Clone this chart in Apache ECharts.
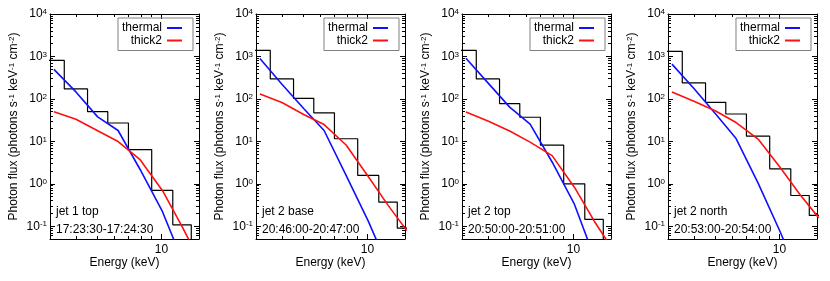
<!DOCTYPE html>
<html><head><meta charset="utf-8">
<script src="https://cdn.jsdelivr.net/npm/echarts@6/dist/echarts.min.js"></script>
<style>html,body{margin:0;padding:0;background:#fff}#c{width:830px;height:281px}</style>
</head><body><div id="c"></div>
<script>
// ---- data ----
const binEdges   = [2.8, 3.5, 4.5, 5.6, 7.0, 9.0, 11.3, 13.8, 17.0];   // keV
const binCenters = [3.13, 3.97, 5.02, 6.26, 7.94, 10.1, 12.5, 15.3];    // keV

const panelNames = ['jet 1 top', 'jet 2 base', 'jet 2 top', 'jet 2 north'];
const panelTimes = ['17:23:30-17:24:30', '20:46:00-20:47:00', '20:50:00-20:51:00', '20:53:00-20:54:00'];

const observed1 = [810, 172, 50, 27, 6.4, 0.70, 0.108];
const thermal1  = [497, 146, 37.7, 18, 2.17, 0.223, 0.016];
const thick1    = [50, 33, 17.7, 9.9, 3.7, 0.695, 0.098, 0.0135];

const observed2 = [1390, 296, 103, 47, 11.5, 1.57, 0.37, 0.09];
const thermal2  = [898, 221, 59.4, 18, 1.57, 0.13, 0.011];
const thick2    = [131, 82, 42.8, 24.8, 8.2, 1.47, 0.31, 0.079];

const observed3 = [1390, 296, 77.5, 36.9, 8.1, 1.0, 0.145];
const thermal3  = [910, 238, 64, 25.5, 3.26, 0.33, 0.019];
const thick3    = [49, 30, 17.5, 9.6, 4.6, 0.83, 0.133, 0.028];

const observed4 = [1318, 238, 83, 44, 13.2, 2.25, 0.53, 0.18];
const thermal4  = [659, 175, 44, 11.6, 1.04, 0.072, 0.0054];
const thick4    = [145, 88, 52, 27.7, 11.3, 2.38, 0.55, 0.157];

const xRange = [3, 15];
const yRange = [0.05, 1e4];
const xMajorTicks = [10];
const xMinorTicks = [3, 4, 5, 6, 7, 8, 9];
const yMajorExponents = [-1, 0, 1, 2, 3, 4];
const yMinorMultipliers = [2, 3, 4, 5, 6, 7, 8, 9];

const observedAll = [observed1, observed2, observed3, observed4];
const thermalAll  = [thermal1, thermal2, thermal3, thermal4];
const thickAll    = [thick1, thick2, thick3, thick4];

// ---- layout ----
const W = 830;
const gridLefts = [50, 256, 462, 668];
const gridTop = 14, gridW = 149, gridH = 225;
const FONT = 'Liberation Sans, Arial, Helvetica, sans-serif';

const L = Math.log10;
const yMinorTicks = [];
for (let e = -2; e <= 3; e++) yMinorMultipliers.forEach(m => {
  const v = m * Math.pow(10, e);
  if (v > yRange[0] * 1.0001 && v < yRange[1]) yMinorTicks.push(v);
});

const grids = [], xAxes = [], yAxes = [], series = [], legends = [], graphics = [];

function tickAxis(base, extra) { return Object.assign({}, base, extra); }

gridLefts.forEach((left, g) => {
  grids.push({ left: left, top: gridTop, width: gridW, height: gridH, outerBoundsMode: 'none', containLabel: false });

  const blackLine = { color: '#000', width: 1 };
  // x axes
  xAxes.push({
    type: 'log', logBase: 10, gridIndex: g, min: xRange[0], max: xRange[1], position: 'bottom',
    axisLine: { show: true, onZero: false, lineStyle: blackLine },
    axisTick: { show: false }, axisLabel: { show: false }, splitLine: { show: false },
    name: 'Energy (keV)', nameLocation: 'middle', nameGap: 18, nameMoveOverlap: false,
    nameTextStyle: { fontSize: 12, color: '#000', fontFamily: FONT }
  });
  const xv = { type: 'value', gridIndex: g, min: L(xRange[0]), max: L(xRange[1]), splitLine: { show: false } };
  xAxes.push(tickAxis(xv, { position: 'bottom',
    axisLine: { show: false, onZero: false },
    axisTick: { show: true, inside: true, length: 5, customValues: xMajorTicks.map(L), lineStyle: blackLine },
    axisLabel: { show: true, customValues: xMajorTicks.map(L), margin: 5, color: '#000', fontSize: 12, fontFamily: FONT,
      formatter: v => String(Math.round(Math.pow(10, v))) } }));
  xAxes.push(tickAxis(xv, { position: 'bottom',
    axisLine: { show: false, onZero: false },
    axisTick: { show: true, inside: true, length: 3, customValues: xMinorTicks.map(L), lineStyle: blackLine },
    axisLabel: { show: false } }));
  xAxes.push(tickAxis(xv, { position: 'top',
    axisLine: { show: true, onZero: false, lineStyle: blackLine },
    axisTick: { show: true, inside: true, length: 5, customValues: xMajorTicks.map(L), lineStyle: blackLine },
    axisLabel: { show: false } }));
  xAxes.push(tickAxis(xv, { position: 'top',
    axisLine: { show: false, onZero: false },
    axisTick: { show: true, inside: true, length: 3, customValues: xMinorTicks.map(L), lineStyle: blackLine },
    axisLabel: { show: false } }));

  // y axes
  yAxes.push({
    type: 'log', logBase: 10, gridIndex: g, min: yRange[0], max: yRange[1], position: 'left',
    axisLine: { show: true, onZero: false, lineStyle: blackLine },
    axisTick: { show: false }, axisLabel: { show: false }, splitLine: { show: false },
    name: 'Photon flux (photons s{s|-1} keV{s|-1} cm{s|-2})', nameLocation: 'middle', nameGap: 30, nameMoveOverlap: false,
    nameTextStyle: { fontSize: 12, color: '#000', fontFamily: FONT, padding: [0, 0, 0, 0],
      rich: { s: { fontSize: 8, lineHeight: 8, verticalAlign: 'top', padding: [0, 0, 6, 0], color: '#000', fontFamily: FONT } } }
  });
  const yv = { type: 'value', gridIndex: g, min: L(yRange[0]), max: L(yRange[1]), splitLine: { show: false } };
  const yMajor = yMajorExponents.slice();
  yAxes.push(tickAxis(yv, { position: 'left',
    axisLine: { show: false, onZero: false },
    axisTick: { show: true, inside: true, length: 5, customValues: yMajor, lineStyle: blackLine },
    axisLabel: { show: true, customValues: yMajor, margin: 3, color: '#000', fontFamily: FONT,
      formatter: v => '{b|10}{s|' + Math.round(v) + '}',
      rich: { b: { fontSize: 12, lineHeight: 12, color: '#000', fontFamily: FONT },
              s: { fontSize: 8, lineHeight: 8, verticalAlign: 'top', padding: [0, 0, 8, 0], color: '#000', fontFamily: FONT } } } }));
  yAxes.push(tickAxis(yv, { position: 'left',
    axisLine: { show: false, onZero: false },
    axisTick: { show: true, inside: true, length: 3, customValues: yMinorTicks.map(L), lineStyle: blackLine },
    axisLabel: { show: false } }));
  yAxes.push(tickAxis(yv, { position: 'right',
    axisLine: { show: true, onZero: false, lineStyle: blackLine },
    axisTick: { show: true, inside: true, length: 5, customValues: yMajor, lineStyle: blackLine },
    axisLabel: { show: false } }));
  yAxes.push(tickAxis(yv, { position: 'right',
    axisLine: { show: false, onZero: false },
    axisTick: { show: true, inside: true, length: 3, customValues: yMinorTicks.map(L), lineStyle: blackLine },
    axisLabel: { show: false } }));

  const xi = g * 5, yi = g * 5;
  const obs = observedAll[g];
  const stepPts = [];
  obs.forEach((v, i) => { stepPts.push([binEdges[i], v], [binEdges[i + 1], v]); });
  stepPts.push([binEdges[obs.length], 1e-4]);
  series.push({ name: 'observed', type: 'line', xAxisIndex: xi, yAxisIndex: yi, data: stepPts,
    symbol: 'none', clip: true, silent: true,
    lineStyle: { color: '#000', width: 1.2 }, itemStyle: { color: '#000' } });
  series.push({ name: 'thermal', type: 'line', xAxisIndex: xi, yAxisIndex: yi,
    data: thermalAll[g].map((v, i) => [binCenters[i], v]),
    symbol: 'none', clip: true, lineStyle: { color: '#1010ff', width: 1.6 }, itemStyle: { color: '#1010ff' } });
  series.push({ name: 'thick2', type: 'line', xAxisIndex: xi, yAxisIndex: yi,
    data: thickAll[g].map((v, i) => [binCenters[i], v]),
    symbol: 'none', clip: true, lineStyle: { color: '#ff1010', width: 1.6 }, itemStyle: { color: '#ff1010' } });

  legends.push({
    data: ['thermal', 'thick2'], orient: 'vertical', align: 'right',
    right: W - (left + gridW - 6), top: 18,
    icon: 'rect', itemWidth: 15, itemHeight: 2, itemGap: 0.5,
    padding: [4, 11, 4, 4], borderColor: '#808080', borderWidth: 1, borderRadius: 0,
    selectedMode: false,
    textStyle: { fontSize: 12, lineHeight: 12, color: '#000', fontFamily: FONT }
  });

  graphics.push({ type: 'text', x: left + 6, y: 203, silent: true,
    style: { text: panelNames[g] + '\n' + panelTimes[g], fill: '#000', fontSize: 12, lineHeight: 17.5,
      fontFamily: FONT, verticalAlign: 'top', align: 'left' } });
});

const chart = echarts.init(document.getElementById('c'), null, { renderer: 'canvas' });
chart.setOption({
  animation: false,
  backgroundColor: '#fff',
  textStyle: { fontFamily: FONT },
  grid: grids, xAxis: xAxes, yAxis: yAxes, series: series, legend: legends, graphic: graphics
});
</script></body></html>
